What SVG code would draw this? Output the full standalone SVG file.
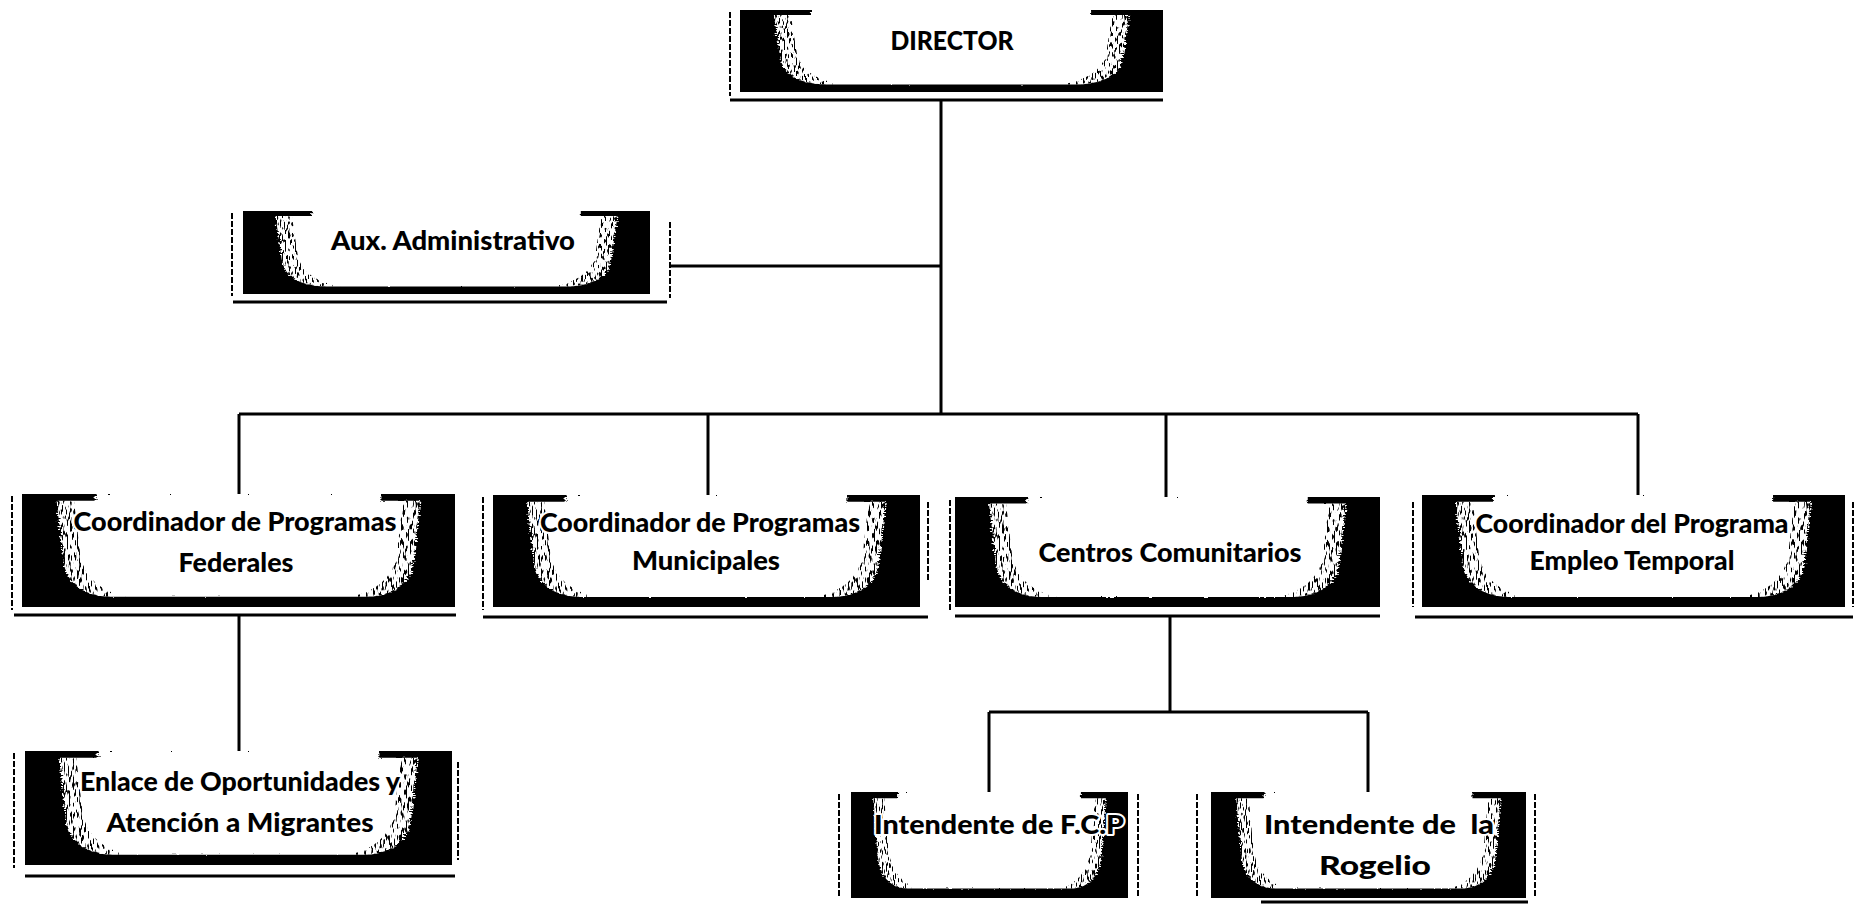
<svg xmlns="http://www.w3.org/2000/svg" xmlns:xlink="http://www.w3.org/1999/xlink" width="1857" height="905" viewBox="0 0 1857 905">
  <style>
    .lbl { font-family: Lato, "Liberation Sans", sans-serif; font-weight: 900; font-size: 27px; fill: #000; text-anchor: middle; stroke: #fff; stroke-width: 4px; paint-order: stroke; stroke-linejoin: round; }
    .conn { stroke: #000; stroke-width: 3; fill: none; }
    .side { stroke: #000; stroke-width: 2; fill: none; stroke-dasharray: 6 2; }
    .under { stroke: #000; stroke-width: 3; fill: none; }
  </style>
  <defs>
    <filter id="rough" x="-5%" y="-5%" width="110%" height="110%">
      <feTurbulence type="fractalNoise" baseFrequency="0.9" numOctaves="2" seed="3" result="n"/>
      <feDisplacementMap in="SourceGraphic" in2="n" scale="2" xChannelSelector="R" yChannelSelector="G"/>
    </filter>
    <filter id="speckle" x="0" y="0" width="1" height="1">
      <feTurbulence type="fractalNoise" baseFrequency="2.5 0.15" numOctaves="1" seed="7" result="t"/>
      <feColorMatrix in="t" type="matrix" values="0 0 0 0 0  0 0 0 0 0  0 0 0 0 0  14 0 0 0 -7.6" result="m"/>
      <feComposite in="m" in2="SourceGraphic" operator="in"/>
    </filter>
    <symbol id="box" viewBox="0 0 100 100" preserveAspectRatio="none">
      <rect x="0" y="0" width="100" height="100" fill="#000"/>
      <path d="M8 6 L17 6 L17 0 L83 0 L83 6 L92 6 L90.5 58 Q89.5 89 80 91 L20 91 Q10.5 89 9.5 58 Z" fill="#fff" filter="url(#rough)"/>
      <path d="M8 6 L12 6 L13.5 55 Q15 83 24 91 L20 91 Q10.5 89 9.5 58 Z" fill="#000" filter="url(#speckle)"/>
      <path d="M92 6 L88 6 L86.5 55 Q85 83 76 91 L80 91 Q89.5 89 90.5 58 Z" fill="#000" filter="url(#speckle)"/>
    </symbol>
  </defs>

  <g id="connectors">
    <path class="conn" d="M941 100 V414"/>
    <path class="conn" d="M670 266 H941"/>
    <path class="conn" d="M239 414 H1638"/>
    <path class="conn" d="M239 414 V494"/>
    <path class="conn" d="M708 414 V495"/>
    <path class="conn" d="M1166 414 V497"/>
    <path class="conn" d="M1638 414 V495"/>
    <path class="conn" d="M239 615 V751"/>
    <path class="conn" d="M1170 616 V712"/>
    <path class="conn" d="M989 712 H1368"/>
    <path class="conn" d="M989 712 V792"/>
    <path class="conn" d="M1368 712 V792"/>
  </g>

  <g id="director">
    <use xlink:href="#box" href="#box" x="740" y="10" width="423" height="82"/>
    <path class="side" d="M730 12 V96"/>
    <path class="under" d="M730 100 H1163"/>
    <text class="lbl" x="952" y="50" textLength="123" lengthAdjust="spacingAndGlyphs">DIRECTOR</text>
  </g>

  <g id="aux-administrativo">
    <use xlink:href="#box" href="#box" x="243" y="211" width="407" height="83"/>
    <path class="side" d="M232 213 V296"/>
    <path class="side" d="M670 222 V298"/>
    <path class="under" d="M233 302 H667"/>
    <text class="lbl" x="453" y="250" textLength="244" lengthAdjust="spacingAndGlyphs">Aux. Administrativo</text>
  </g>

  <g id="coord-federales">
    <use xlink:href="#box" href="#box" x="22" y="494" width="433" height="113"/>
    <path class="side" d="M12 496 V610"/>
    <path class="under" d="M14 615 H456"/>
    <text class="lbl" x="235" y="531" textLength="323" lengthAdjust="spacingAndGlyphs">Coordinador de Programas</text>
    <text class="lbl" x="236" y="572" textLength="115" lengthAdjust="spacingAndGlyphs">Federales</text>
  </g>

  <g id="coord-municipales">
    <use xlink:href="#box" href="#box" x="493" y="495" width="427" height="112"/>
    <path class="side" d="M483 497 V610"/>
    <path class="side" d="M928 502 V582"/>
    <path class="under" d="M483 617 H928"/>
    <text class="lbl" x="700" y="532" textLength="320" lengthAdjust="spacingAndGlyphs">Coordinador de Programas</text>
    <text class="lbl" x="706" y="570" textLength="148" lengthAdjust="spacingAndGlyphs">Municipales</text>
  </g>

  <g id="centros-comunitarios">
    <use xlink:href="#box" href="#box" x="955" y="497" width="425" height="110"/>
    <path class="side" d="M950 500 V610"/>
    <path class="under" d="M955 616 H1380"/>
    <text class="lbl" x="1170" y="562" textLength="263" lengthAdjust="spacingAndGlyphs">Centros Comunitarios</text>
  </g>

  <g id="coord-empleo-temporal">
    <use xlink:href="#box" href="#box" x="1422" y="495" width="423" height="112"/>
    <path class="side" d="M1413 502 V607"/>
    <path class="side" d="M1853 502 V607"/>
    <path class="under" d="M1415 617 H1853"/>
    <text class="lbl" x="1632" y="533" textLength="313" lengthAdjust="spacingAndGlyphs">Coordinador del Programa</text>
    <text class="lbl" x="1632" y="570" textLength="205" lengthAdjust="spacingAndGlyphs">Empleo Temporal</text>
  </g>

  <g id="enlace-oportunidades">
    <use xlink:href="#box" href="#box" x="25" y="751" width="427" height="114"/>
    <path class="side" d="M14 753 V868"/>
    <path class="side" d="M458 762 V860"/>
    <path class="under" d="M25 876 H455"/>
    <text class="lbl" x="240" y="791" textLength="320" lengthAdjust="spacingAndGlyphs">Enlace de Oportunidades y</text>
    <text class="lbl" x="240" y="832" textLength="267" lengthAdjust="spacingAndGlyphs">Atención a Migrantes</text>
  </g>

  <g id="intendente-fcp">
    <use xlink:href="#box" href="#box" x="851" y="792" width="277" height="106"/>
    <path class="side" d="M839 794 V898"/>
    <path class="side" d="M1138 794 V898"/>
    <text class="lbl" x="999" y="834" textLength="250" lengthAdjust="spacingAndGlyphs">Intendente de F.C.P</text>
  </g>

  <g id="intendente-rogelio">
    <use xlink:href="#box" href="#box" x="1211" y="792" width="315" height="106"/>
    <path class="side" d="M1197 794 V898"/>
    <path class="side" d="M1535 794 V898"/>
    <path class="under" d="M1261 902 H1528"/>
    <text class="lbl" x="1379" y="834" textLength="230" lengthAdjust="spacingAndGlyphs" xml:space="preserve">Intendente de  la</text>
    <text class="lbl" x="1375" y="875" textLength="112" lengthAdjust="spacingAndGlyphs">Rogelio</text>
  </g>
</svg>
